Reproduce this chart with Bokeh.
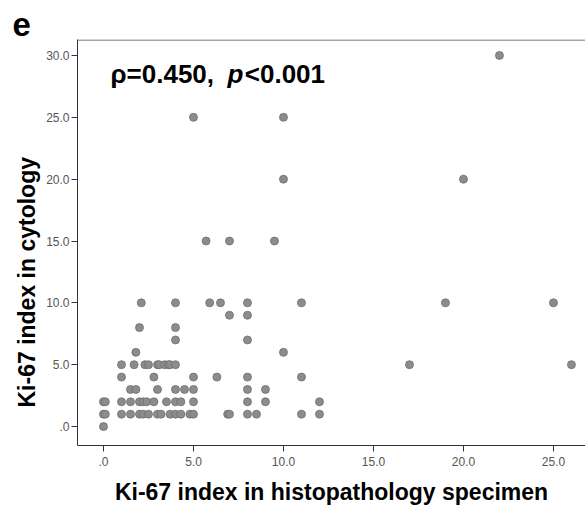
from bokeh.plotting import figure
from bokeh.models import FixedTicker, Range1d, Label, Span, Title
from bokeh.embed import file_html
from bokeh.resources import INLINE

# Ki-67 index in histopathology specimen (x) vs cytology (y)
histopathology = [
    0,
    0, 0.1, 1, 1.5, 2, 2.2, 2.5, 3, 3.2, 3.7, 4, 4.3, 4.8, 5, 6.9, 7, 8, 8.5, 11, 12,
    0, 0.1, 1, 1.5, 2, 2.2, 2.4, 2.8, 3.5, 4, 4.3, 5, 8, 9, 12,
    1.5, 1.8, 3, 4, 4.5, 5, 8, 9,
    1, 2.8, 5, 6.3, 8, 11,
    1, 1.7, 2.3, 2.5, 3, 3.1, 3.4, 3.6, 3.7, 4, 17, 26,
    1.8, 10,
    4, 8,
    2, 4,
    7, 8,
    2.1, 4, 5.9, 6.5, 8, 11, 19, 25,
    5.7, 7, 9.5,
    10, 20,
    5, 10,
    22,
]
cytology = (
    [0]
    + [1] * 20
    + [2] * 15
    + [3] * 8
    + [4] * 6
    + [5] * 12
    + [6] * 2
    + [7] * 2
    + [8] * 2
    + [9] * 2
    + [10] * 8
    + [15] * 3
    + [20] * 2
    + [25] * 2
    + [30]
)

x_ticks = [0, 5, 10, 15, 20, 25]
x_tick_labels = [".0", "5.0", "10.0", "15.0", "20.0", "25.0"]
y_ticks = [0, 5, 10, 15, 20, 25, 30]
y_tick_labels = [".0", "5.0", "10.0", "15.0", "20.0", "25.0", "30.0"]

FONT = "Liberation Sans"
Y_TOP = 31.29

p = figure(width=585, height=507, output_backend="svg", toolbar_location=None,
           x_range=Range1d(-1.444, 26.78), y_range=Range1d(-1.532, Y_TOP),
           min_border_left=77, min_border_top=39, min_border_bottom=61,
           min_border_right=0)
p.background_fill_color = "white"
p.border_fill_color = "white"
p.outline_line_color = None
p.xgrid.visible = False
p.ygrid.visible = False

# top frame line (right side of the frame lies outside the picture)
p.add_layout(Span(location=Y_TOP - 0.05, dimension="width",
                  line_color="#888888", line_width=1.5))

for ax, ticks, labels in ((p.xaxis[0], x_ticks, x_tick_labels), (p.yaxis[0], y_ticks, y_tick_labels)):
    ax.ticker = FixedTicker(ticks=ticks)
    ax.major_label_overrides = {t: l for t, l in zip(ticks, labels)}
    ax.minor_tick_line_color = None
    ax.major_tick_out = 6
    ax.major_tick_in = 0
    ax.axis_line_color = "#333333"
    ax.major_tick_line_color = "#333333"
    ax.major_label_text_font = FONT
    ax.major_label_text_font_size = "12px"
    ax.major_label_text_color = "#555555"
    ax.axis_label_text_font = FONT
    ax.axis_label_text_font_size = "23px"
    ax.axis_label_text_font_style = "bold"
    ax.axis_label_text_color = "black"

p.xaxis.axis_label = "Ki-67 index in histopathology specimen"
p.xaxis.major_label_standoff = 5
p.yaxis.major_label_standoff = 2
p.xaxis.axis_label_standoff = 10

# y axis title: placed as a left-side title so it can sit lower, as in the original
p.add_layout(Title(text="Ki-67 index in cytology", align="left", offset=38,
                   standoff=7, text_font=FONT, text_font_size="23px",
                   text_font_style="bold", text_color="black"), "left")

p.scatter(histopathology, cytology, size=8, fill_color="#8c8c8c",
          line_color="#6e6e6e", line_width=0.8)

ann_kw = dict(text_font=FONT, text_font_size="26px", text_font_style="bold",
              text_color="black", text_baseline="alphabetic")
ann_y = 28.47
p.add_layout(Label(x=0.389, y=ann_y, text="ρ=0.450,", **ann_kw))
p.add_layout(Label(x=6.89, y=ann_y, text="p", **dict(ann_kw, text_font_style="bold italic")))
p.add_layout(Label(x=7.85, y=ann_y, text="<0.001", **ann_kw))

# panel letter as the figure title
p.title.text = "e"
p.title.align = "left"
p.title.vertical_align = "bottom"
p.title.text_baseline = "alphabetic"
p.title.text_line_height = 0.8
p.title.offset = -65
p.title.standoff = 8
p.title.text_font = FONT
p.title.text_font_size = "33px"
p.title.text_font_style = "bold"
p.title.text_color = "black"

open("out.html", "w").write(file_html(p, INLINE))
